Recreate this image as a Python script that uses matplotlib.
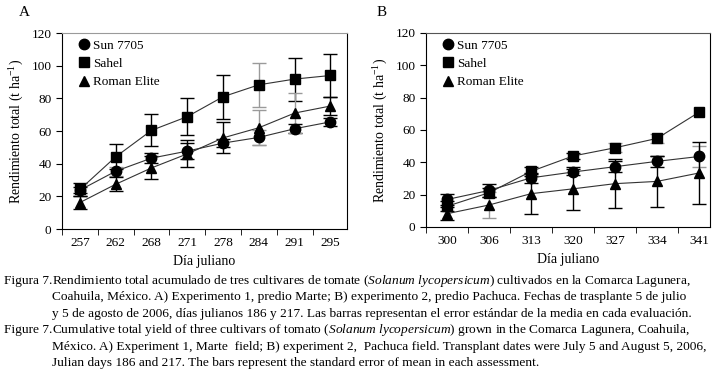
import matplotlib
matplotlib.use("Agg")
import matplotlib.pyplot as plt

# ---- data ----
days_a = ["257", "262", "268", "271", "278", "284", "291", "295"]
sun_a = [23.8, 35.4, 43.4, 47.7, 52.6, 56.1, 61.4, 65.6]
sahel_a = [24.2, 44.2, 60.4, 68.8, 81.0, 88.3, 91.8, 94.0]
roman_a = [16.2, 27.4, 37.4, 46.0, 55.8, 62.0, 71.0, 75.3]
sun_a_se = [2.0, 2.8, 3.0, 5.0, 2.3, 4.7, 2.6, 2.5]
sahel_a_se = [3.8, 7.6, 9.8, 11.4, 13.5, 13.4, 13.2, 13.3]
roman_a_se = [4.0, 4.3, 7.0, 8.2, 9.5, 10.8, 12.0, 5.5]

days_b = ["300", "306", "313", "320", "327", "334", "341"]
sun_b = [17.0, 22.6, 30.4, 34.0, 37.3, 40.6, 43.6]
sahel_b = [12.8, 21.2, 34.4, 43.9, 49.0, 54.8, 71.0]
roman_b = [8.2, 13.6, 20.6, 23.6, 26.8, 28.2, 33.4]
sun_b_se = [3.5, 4.0, 3.0, 2.0, 3.3, 3.5, 6.8]
sahel_b_se = [3.0, 2.7, 2.6, 1.6, 2.8, 2.6, 0.0]
roman_b_se = [4.0, 8.0, 12.3, 13.4, 15.0, 16.0, 19.0]

labels = ["Sun 7705", "Sahel", "Roman Elite"]

# error bars printed in grey in the original (series index, point index)
grey_a = {(1, 5), (2, 5), (2, 6), (0, 1), (0, 5)}
grey_b = {(2, 1), (1, 4), (1, 5), (0, 6)}

plt.rcParams["font.family"] = ["Liberation Serif", "DejaVu Serif"]
plt.rcParams["mathtext.fontset"] = "custom"
plt.rcParams["mathtext.rm"] = "Liberation Serif"
plt.rcParams["mathtext.it"] = "Liberation Serif:italic"

fig = plt.figure(figsize=(7.25, 3.84), dpi=100)
ax_a = fig.add_axes([0.0855, 0.4036, 0.393, 0.5104])
ax_b = fig.add_axes([0.5876, 0.4089, 0.3917, 0.5052])


def panel(ax, days, series, errs, grey, xmax, topcol):
    x = list(range(1, len(days) + 1))
    markers = ["o", "s", "^"]
    sizes = [7.5, 7, 7.5]
    handles = []
    for si, (y, e) in enumerate(zip(series, errs)):
        for i in range(len(x)):
            if e[i] <= 0:
                continue
            col = "#9a9a9a" if (si, i) in grey else "black"
            ax.errorbar(x[i], y[i], yerr=e[i], fmt="none", ecolor=col,
                        elinewidth=1.0, capsize=5, capthick=1.0, zorder=2)
        ax.plot(x, y, color="#333333", lw=0.8, zorder=3)
    for si, y in enumerate(series):
        h, = ax.plot(x, y, ls="none", marker=markers[si], ms=sizes[si],
                     color="black", zorder=4, label=labels[si])
        handles.append(h)
    ax.set_xlim(0.5, xmax)
    ax.set_ylim(0, 120)
    ax.set_yticks(range(0, 121, 20))
    ax.set_xticks(x)
    ax.set_xticklabels(days)
    ax.set_xticks([v + 0.5 for v in range(0, len(days))], minor=True)
    ax.tick_params(axis="x", which="major", length=0, labelsize=9.5, pad=6)
    ax.tick_params(axis="x", which="minor", length=4, direction="out")
    ax.tick_params(axis="y", length=4, direction="out", labelsize=9.5)
    ax.spines["top"].set_color(topcol)
    ax.set_xlabel("Día juliano", fontsize=10)
    ax.set_ylabel("Rendimiento total (t ha$^{-1}$)", fontsize=10)
    ax.legend(handles=handles, loc="upper left", frameon=False, fontsize=9.5,
              handlelength=0.8, handletextpad=0.3, labelspacing=0.45,
              borderaxespad=0.2, borderpad=0.3,
              bbox_to_anchor=(0.035, 1.0))


panel(ax_a, days_a, [sun_a, sahel_a, roman_a],
      [sun_a_se, sahel_a_se, roman_a_se], grey_a, 8.46, "#9a9a9a")
panel(ax_b, days_b, [sun_b, sahel_b, roman_b],
      [sun_b_se, sahel_b_se, roman_b_se], grey_b, 7.26, "#555555")

fig.text(19 / 725, 1 - 13 / 384, "A", fontsize=11, va="center")
fig.text(377 / 725, 1 - 13 / 384, "B", fontsize=11, va="center")

# caption
cap = [
    ("Figura 7.", "Rendimiento total acumulado de tres cultivares de tomate "
     "($\\mathit{Solanum\\ lycopersicum}$) cultivados en la Comarca Lagunera,"),
    ("", "Coahuila, México. A) Experimento 1, predio Marte; B) experimento 2, "
     "predio Pachuca. Fechas de trasplante 5 de julio"),
    ("", "y 5 de agosto de 2006, días julianos 186 y 217. Las barras representan "
     "el error estándar de la media en cada evaluación."),
    ("Figure 7.", "Cumulative total yield of three cultivars of tomato "
     "($\\mathit{Solanum\\ lycopersicum}$) grown in the Comarca Lagunera, Coahuila,"),
    ("", "México. A) Experiment 1, Marte  field; B) experiment 2,  Pachuca field. "
     "Transplant dates were July 5 and August 5, 2006,"),
    ("", "Julian days 186 and 217. The bars represent the standard error of "
     "mean in each assessment."),
]
y0 = 281
for k, (head, body) in enumerate(cap):
    yy = 1 - (y0 + k * 16.4) / 384
    if head:
        fig.text(4 / 725, yy, head, fontsize=9.6, va="center")
    fig.text(52 / 725, yy, body, fontsize=9.6, va="center")

fig.savefig("out.png", dpi=100)
